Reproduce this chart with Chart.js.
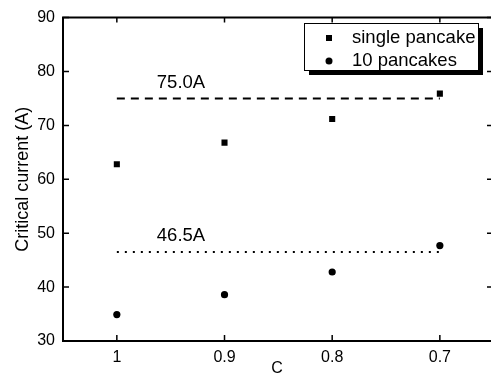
<!DOCTYPE html>
<html lang="en">
<head>
<meta charset="UTF-8">
<title>Critical current</title>
<script src="https://cdn.jsdelivr.net/npm/chart.js@4.4.1/dist/chart.umd.min.js"></script>
<style>
  html, body { margin: 0; padding: 0; background: #fff; overflow: hidden; }
  #wrap { width: 491px; height: 383px; }
</style>
</head>
<body>
<div id="wrap"><canvas id="myChart"></canvas></div>
<script>
// data
const cValues = [1, 0.9, 0.8, 0.7];
const cLabels = ['1', '0.9', '0.8', '0.7'];
const singlePancake = [62.8, 66.8, 71.2, 75.9];
const tenPancakes = [34.9, 38.6, 42.8, 47.7];
const singleLevel = [75.0, 75.0, 75.0, 75.0];
const tenLevel = [46.5, 46.5, 46.5, 46.5];
const levelLabels = ['75.0A', '46.5A'];
const yTicks = [30, 40, 50, 60, 70, 80, 90];

const FONT = 'Arial, "Liberation Sans", sans-serif';

var toPoints = function(ys) {
    return cValues.map(function(x, i) { return { x: x, y: ys[i] }; });
};

// frame, inward ticks, level labels and the boxed legend
const framePlugin = {
    id: 'frame',
    afterDraw(chart) {
        const c = chart.ctx;
        const a = chart.chartArea;
        const xs = chart.scales.x, ys = chart.scales.y;
        const right = a.right + 3; // right edge of the frame falls just off the picture
        c.save();
        c.strokeStyle = '#000';
        c.lineWidth = 2;
        c.beginPath();
        c.moveTo(a.left, a.top);
        c.lineTo(a.left, a.bottom);
        c.lineTo(right, a.bottom);
        c.lineTo(right, a.top);
        c.closePath();
        c.stroke();

        c.lineWidth = 1.5;
        c.beginPath();
        cValues.forEach(function(v) {
            const px = xs.getPixelForValue(v);
            c.moveTo(px, a.bottom); c.lineTo(px, a.bottom - 6);
            c.moveTo(px, a.top); c.lineTo(px, a.top + 5);
        });
        yTicks.forEach(function(v) {
            const py = ys.getPixelForValue(v);
            c.moveTo(a.left, py); c.lineTo(a.left + 6, py);
            c.moveTo(right, py); c.lineTo(right - 7, py);
        });
        c.stroke();

        // level labels
        c.fillStyle = '#000';
        c.font = '18.5px ' + FONT;
        c.textAlign = 'center';
        c.textBaseline = 'alphabetic';
        c.fillText(levelLabels[0], 181, ys.getPixelForValue(singleLevel[0]) - 10);
        c.fillText(levelLabels[1], 181, ys.getPixelForValue(tenLevel[0]) - 11);

        // legend box with drop shadow
        const lx = 304, ly = 23, lw = 174, lh = 47;
        c.fillStyle = '#000';
        c.fillRect(lx + 5, ly + 5, lw, lh);
        c.fillStyle = '#fff';
        c.fillRect(lx, ly, lw, lh);
        c.lineWidth = 1;
        c.strokeStyle = '#000';
        c.strokeRect(lx + 0.5, ly + 0.5, lw, lh);
        c.fillStyle = '#000';
        c.fillRect(326, 35, 6, 6);
        c.beginPath();
        c.arc(329, 61, 3.5, 0, Math.PI * 2);
        c.fill();
        c.textAlign = 'left';
        c.textBaseline = 'middle';
        c.font = '18.5px ' + FONT;
        c.fillText(chart.data.datasets[0].label, 352, 38);
        c.fillText(chart.data.datasets[1].label, 352, 61);
        c.restore();
    }
};

const ctx = document.getElementById('myChart').getContext('2d');
const myChart = new Chart(ctx, {
    type: 'line',
    data: {
        datasets: [
            {
                label: 'single pancake',
                data: toPoints(singlePancake),
                showLine: false,
                pointStyle: 'rect',
                pointRadius: 4.3,
                backgroundColor: '#000',
                borderColor: '#000',
                borderWidth: 0
            },
            {
                label: '10 pancakes',
                data: toPoints(tenPancakes),
                showLine: false,
                pointStyle: 'circle',
                pointRadius: 3.6,
                backgroundColor: '#000',
                borderColor: '#000',
                borderWidth: 0
            },
            {
                label: 'level 1',
                data: toPoints(singleLevel),
                borderColor: '#000',
                borderWidth: 2,
                borderDash: [8, 6],
                pointRadius: 0
            },
            {
                label: 'level 2',
                data: toPoints(tenLevel),
                borderColor: '#000',
                borderWidth: 2,
                borderDash: [2, 6],
                pointRadius: 0
            }
        ]
    },
    options: {
        responsive: true,
        maintainAspectRatio: false,
        animation: false,
        layout: { autoPadding: false, padding: { top: 14, right: 0, left: 0, bottom: 0 } },
        plugins: { legend: { display: false }, tooltip: { enabled: false } },
        scales: {
            x: {
                type: 'linear',
                reverse: true,
                min: 0.6525,
                max: 1.05,
                grid: { display: false, drawTicks: false },
                border: { display: false },
                afterBuildTicks: function(s) {
                    s.ticks = cValues.map(function(v) { return { value: v }; });
                },
                ticks: {
                    color: '#000', font: { family: FONT, size: 16 }, padding: 7,
                    callback: function(v) { return cLabels[cValues.indexOf(v)]; }
                },
                title: {
                    display: true, text: 'C', color: '#000',
                    font: { family: FONT, size: 16 },
                    padding: { top: 0, bottom: 5 }
                },
                afterFit: function(s) { s.height = 42; }
            },
            y: {
                min: 30,
                max: 90,
                grid: { display: false, drawTicks: false },
                border: { display: false },
                ticks: { stepSize: 10, color: '#000', font: { family: FONT, size: 16 }, padding: 8 },
                title: {
                    display: true, text: 'Critical current (A)', color: '#000',
                    font: { family: FONT, size: 18 },
                    padding: { top: 12, bottom: 0 }
                },
                afterFit: function(s) { s.width = 63; }
            }
        }
    },
    plugins: [framePlugin]
});
</script>
</body>
</html>
